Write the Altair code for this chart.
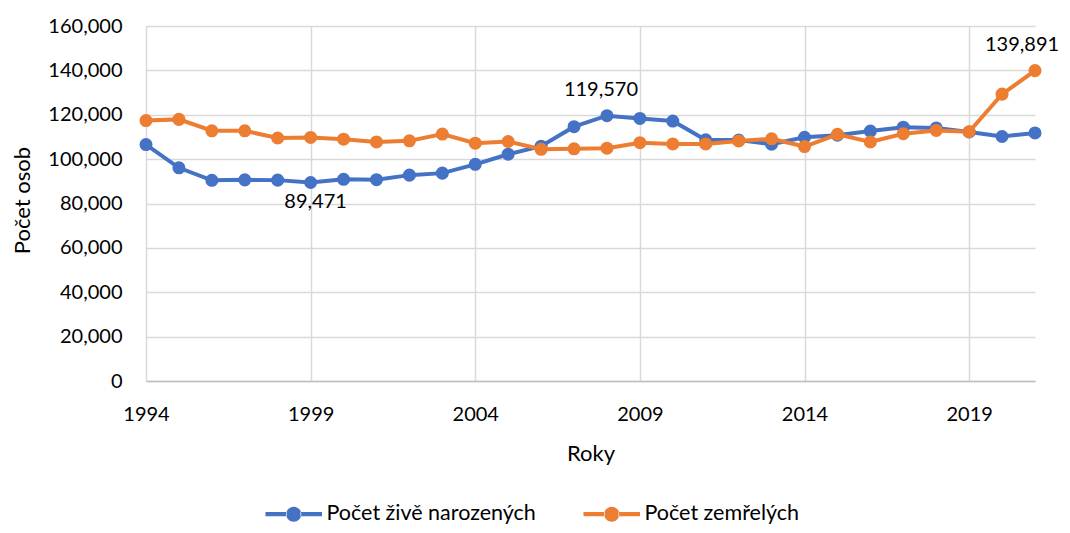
import altair as alt
import pandas as pd

years = list(range(1994, 2022))
births = [106579, 96097, 90446, 90657, 90535, 89471, 90910, 90715, 92786, 93685,
          97664, 102211, 105831, 114632, 119570, 118348, 117153, 108673, 108576, 106751,
          109860, 110764, 112663, 114405, 114036, 112231, 110200, 111793]
deaths = [117373, 117913, 112782, 112744, 109527, 109768, 109001, 107755, 108243, 111288,
          107177, 107938, 104441, 104636, 104948, 107421, 106844, 106848, 108189, 109160,
          105665, 111173, 107750, 111443, 112920, 112362, 129289, 139891]
series_names = ["Počet živě narozených", "Počet zemřelých"]
colors = ["#4472C4", "#ED7D31"]
x_ticks = [1994, 1999, 2004, 2009, 2014, 2019]
y_ticks = [0, 20000, 40000, 60000, 80000, 100000, 120000, 140000, 160000]
label_years = [1999, 2008, 2021]
label_series = [series_names[0], series_names[0], series_names[1]]
label_below = [True, False, False]
label_dx = [5, -6, -13]

rows = []
for s, vals in zip(series_names, [births, deaths]):
    for y, v in zip(years, vals):
        rows.append({"year": y, "series": s, "value": v})
df = pd.DataFrame(rows)

lab_rows = []
for y, s, b, dx in zip(label_years, label_series, label_below, label_dx):
    v = df[(df.year == y) & (df.series == s)].value.iloc[0]
    lab_rows.append({"year": y, "series": s, "value": v, "below": b, "dx": dx})
lab_df = pd.DataFrame(lab_rows)

FONT = "Lato"
TXT = "#000000"
GRID = "#D9D9D9"

x_enc = alt.X("year:Q",
              scale=alt.Scale(domain=[1994, 2021], nice=False, zero=False),
              axis=alt.Axis(values=x_ticks, format="d", grid=True, gridColor=GRID, gridWidth=1.5,
                            domainColor="#BFBFBF", domainWidth=1.5, ticks=False, labelFlush=False,
                            labelFontSize=20, labelPadding=23, labelColor=TXT,
                            title="Roky", titleFontSize=22, titleFontWeight="normal",
                            titleColor=TXT, titleY=72, titleBaseline="middle"))
y_enc = alt.Y("value:Q",
              scale=alt.Scale(domain=[0, 160000], nice=False),
              axis=alt.Axis(values=y_ticks, format=",d", grid=True, gridColor=GRID, gridWidth=1.5,
                            domain=False, ticks=False, labelFontSize=20, labelPadding=24,
                            labelColor=TXT, title="Počet osob", titleFontSize=22,
                            titleFontWeight="normal", titleColor=TXT, titleX=-124, titleY=174,
                            titleBaseline="middle"))

sym_path = ("M-3.77,-0.27L-0.9,-0.27L-0.9,0.27L-3.77,0.27Z "
            "M0.9,-0.27L3.77,-0.27L3.77,0.27L0.9,0.27Z "
            "M-1,0A1,1 0 1,0 1,0A1,1 0 1,0 -1,0Z")

color_enc = alt.Color("series:N",
                      scale=alt.Scale(domain=series_names, range=colors),
                      sort=series_names,
                      legend=alt.Legend(orient="none", legendX=137, legendY=477,
                                        direction="horizontal", columns=2, title=None,
                                        symbolType=sym_path, symbolSize=225, symbolStrokeWidth=0,
                                        symbolOpacity=1, labelFontSize=21.5, labelOffset=22,
                                        columnPadding=47, padding=0, labelColor=TXT,
                                        labelLimit=400))

base = alt.Chart(df)
layers = []
for name, col in zip(series_names, colors):
    sub = base.transform_filter(alt.datum.series == name)
    layers.append(sub.mark_line(strokeWidth=4, color=col).encode(x=x_enc, y=y_enc))
    layers.append(sub.mark_point(filled=True, size=170, opacity=1).encode(x=x_enc, y=y_enc, color=color_enc))

lab_base = alt.Chart(lab_df)
for (i, row) in lab_df.iterrows():
    t = lab_base.transform_filter(alt.datum.year == int(row.year)).mark_text(
        fontSize=20, color=TXT, dx=int(row.dx), dy=20 if row.below else -26, font=FONT
    ).encode(x=x_enc, y=y_enc, text=alt.Text("value:Q", format=",d"))
    layers.append(t)

chart = alt.layer(*layers).properties(
    width=889, height=355,
    autosize=alt.AutoSizeParams(type="none"),
    padding={"left": 138, "top": 18, "right": 27, "bottom": 144},
).configure(font=FONT).configure_view(stroke=None)

chart.save("out.html", embed_options={"renderer": "svg", "actions": False})
